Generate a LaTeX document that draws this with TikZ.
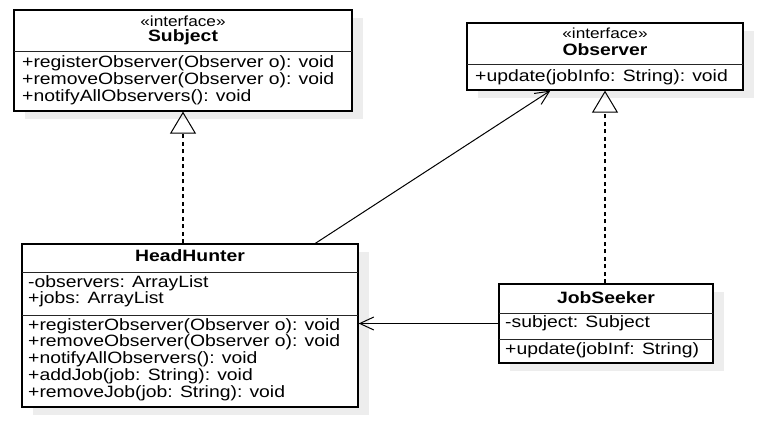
\documentclass[tikz,border=0pt]{standalone}
\usepackage{fontspec}
\newfontfamily\umlfont[FakeStretch=1.18]{Liberation Sans}
\usetikzlibrary{arrows.meta,shadows}
\tikzstyle{class-node}=[draw=black,line width=1.3pt,fill=white,rectangle,inner sep=0pt,
  drop shadow={shadow xshift=11pt,shadow yshift=-8pt,fill=black!7,opacity=1}]
\tikzstyle{member-text}=[anchor=west,inner sep=0pt,font=\umlfont\fontsize{16.4}{17}\selectfont]
\tikzstyle{name-text}=[inner sep=0pt,font=\umlfont\bfseries\fontsize{16.4}{17}\selectfont]
\tikzstyle{stereo-text}=[inner sep=0pt,font=\umlfont\fontsize{14.6}{15}\selectfont]
\tikzstyle{divider}=[draw=black!85,line width=1pt]
\tikzstyle{realize-line}=[draw=black,line width=1.5pt,dash pattern=on 4pt off 3.5pt]
\tikzstyle{assoc-line}=[draw=black,line width=1pt]

\begin{document}
\begin{tikzpicture}[x=1pt,y=-1pt]
	\useasboundingbox (0,0) rectangle (773,425);
	\begin{scope}
	% class boxes
	\node (subject)[class-node,minimum width=338pt,minimum height=101pt] at (183,60.5) {};
	\node (observer)[class-node,minimum width=276pt,minimum height=67pt] at (605,56.5) {};
	\node (headhunter)[class-node,minimum width=336pt,minimum height=163pt] at (190,325.5) {};
	\node (jobseeker)[class-node,minimum width=214pt,minimum height=79pt] at (606,323.5) {};
	\end{scope}

	% compartments
	\path [divider] (14,52) -- (352,52);
	\path [divider] (467,65) -- (743,65);
	\path [divider] (22,272) -- (358,272);
	\path [divider] (22,315) -- (358,315);
	\path [divider] (499,313) -- (713,313);
	\path [divider] (499,339) -- (713,339);

	% Subject
	\node (s-stereo)[stereo-text] at (183,21) {«interface»};
	\node (s-name)[name-text] at (183,37) {Subject};
	\node (s-m1)[member-text] at (22,63) {+registerObserver(Observer o): void};
	\node (s-m2)[member-text] at (22,80) {+removeObserver(Observer o): void};
	\node (s-m3)[member-text] at (22,97) {+notifyAllObservers(): void};

	% Observer
	\node (o-stereo)[stereo-text] at (605,33) {«interface»};
	\node (o-name)[name-text] at (605,50) {Observer};
	\node (o-m1)[member-text] at (475,77) {+update(jobInfo: String): void};

	% HeadHunter
	\node (h-name)[name-text] at (190,256) {HeadHunter};
	\node (h-a1)[member-text] at (28,283) {-observers: ArrayList};
	\node (h-a2)[member-text] at (28,299) {+jobs: ArrayList};
	\node (h-m1)[member-text] at (28,326) {+registerObserver(Observer o): void};
	\node (h-m2)[member-text] at (28,342) {+removeObserver(Observer o): void};
	\node (h-m3)[member-text] at (28,359) {+notifyAllObservers(): void};
	\node (h-m4)[member-text] at (28,376) {+addJob(job: String): void};
	\node (h-m5)[member-text] at (28,393) {+removeJob(job: String): void};

	% JobSeeker
	\node (j-name)[name-text] at (606,298) {JobSeeker};
	\node (j-a1)[member-text] at (505,323) {-subject: Subject};
	\node (j-m1)[member-text] at (505,350) {+update(jobInf: String)};

	\begin{scope}[every edge/.style=realize-line]
	\path [-{Triangle[open,length=22pt,width=26pt,line width=1pt]}] (subject.south |- headhunter.north) edge (subject.south);
	\path [-{Triangle[open,length=22pt,width=26pt,line width=1pt]}] (observer.south |- jobseeker.north) edge (observer.south);
	\end{scope}

	\begin{scope}[>={Straight Barb[length=14pt,width=13pt,line width=1pt]}, every edge/.style=assoc-line]
	\path [->] ([xshift=294pt]headhunter.north west) edge ([xshift=84pt]observer.south west);
	\path [->] (jobseeker.west) edge (jobseeker.west -| headhunter.east);
	\end{scope}
\end{tikzpicture}
\end{document}
